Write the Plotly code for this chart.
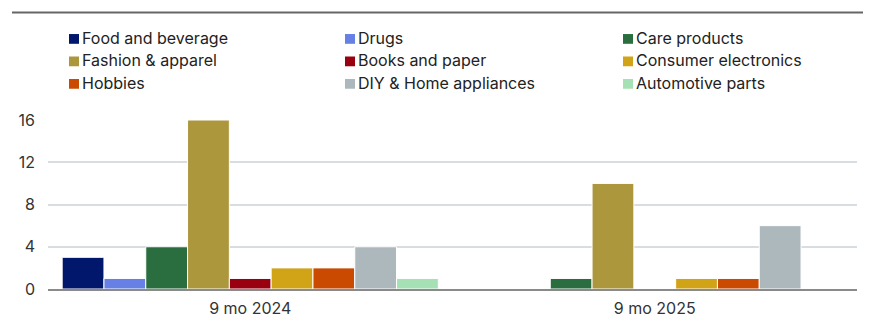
import plotly.graph_objects as go

# Reporting periods (x categories)
periods = ["9 mo 2024", "9 mo 2025"]

# Product categories, in legend order
categories = [
    "Food and beverage", "Drugs", "Care products",
    "Fashion & apparel", "Books and paper", "Consumer electronics",
    "Hobbies", "DIY & Home appliances", "Automotive parts",
]

# Counts per category for each period
values_2024 = [3, 1, 4, 16, 1, 2, 2, 4, 1]
values_2025 = [0, 0, 1, 10, 0, 1, 1, 6, 0]

colors = [
    "#00176b", "#6680e6", "#2a6e3f",
    "#ad973d", "#990010", "#d1a317",
    "#c94a00", "#adb8bd", "#a6e0b5",
]

y_ticks = [0, 4, 8, 12, 16]

FONT = "Inter, Roboto, sans-serif"
TEXT = "#222222"

W, H = 870, 330
M_L, M_R, M_T, M_B = 48, 13, 120, 37
PW, PH = W - M_L - M_R, H - M_T - M_B


def px_x(px):
    return (px - M_L) / PW


def px_y(py):
    return (H - M_B - py) / PH


fig = go.Figure()
for name, color, v24, v25 in zip(categories, colors, values_2024, values_2025):
    fig.add_trace(go.Bar(
        name=name,
        x=periods,
        y=[v24, v25],
        marker=dict(color=color, line=dict(color="white", width=1)),
        showlegend=False,
    ))

# Legend drawn as swatches + text in three columns
shapes = [
    dict(type="line", xref="paper", yref="paper",
         x0=px_x(12), x1=px_x(863), y0=px_y(10), y1=px_y(10),
         line=dict(color="#666666", width=2)),
]
annotations = []
col_x = [69, 345, 623]
row_y = [37, 60, 83]
for i, (name, color) in enumerate(zip(categories, colors)):
    cx = col_x[i % 3]
    cy = row_y[i // 3]
    shapes.append(dict(
        type="rect", xref="paper", yref="paper",
        x0=px_x(cx), x1=px_x(cx + 10), y0=px_y(cy - 5), y1=px_y(cy + 5),
        fillcolor=color, line=dict(width=0),
    ))
    annotations.append(dict(
        text=name, xref="paper", yref="paper",
        x=px_x(cx + 11), y=px_y(cy - 1), xanchor="left", yanchor="middle",
        showarrow=False, font=dict(family=FONT, size=16, color=TEXT),
    ))

fig.update_layout(
    width=W, height=H,
    margin=dict(l=M_L, r=M_R, t=M_T, b=M_B),
    paper_bgcolor="white", plot_bgcolor="white",
    barmode="group", bargap=0.07, bargroupgap=0,
    font=dict(family=FONT, size=16, color=TEXT),
    shapes=shapes, annotations=annotations,
    showlegend=False,
)
fig.update_xaxes(
    showline=True, linecolor="#8a8a8a", linewidth=2,
    showgrid=False, ticks="", ticklabelstandoff=4,
    tickfont=dict(family=FONT, size=16, color="#333333"),
)
fig.update_yaxes(
    range=[0, 16], tickvals=y_ticks,
    showgrid=True, gridcolor="#d8dde1", gridwidth=1.5,
    zeroline=False, showline=False, ticks="",
    ticklabelstandoff=12,
    tickfont=dict(family=FONT, size=16, color="#333333"),
)

fig.write_html("out.html")
